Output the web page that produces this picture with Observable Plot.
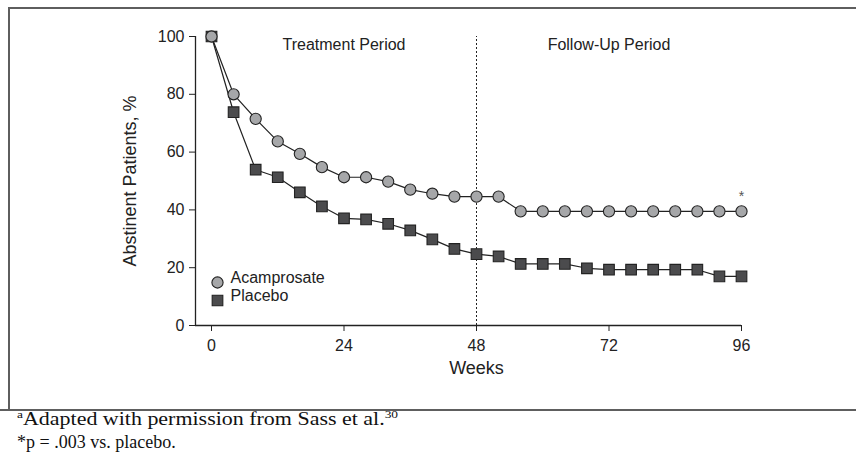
<!DOCTYPE html>
<html>
<head>
<meta charset="utf-8">
<script src="https://cdn.jsdelivr.net/npm/d3@7"></script>
<script src="https://cdn.jsdelivr.net/npm/@observablehq/plot@0.6"></script>
<style>
  html, body { margin: 0; padding: 0; background: #fff; }
  #wrap { position: relative; width: 856px; height: 459px; overflow: hidden; background: #fff; }
  #chart { position: absolute; left: 0; top: 0; }
  .frame { position: absolute; left: 8px; top: 7px; width: 900px; height: 402px;
           border-left: 2px solid #5e5e5e; border-top: 2px solid #5e5e5e; box-sizing: border-box; }
  .sep { position: absolute; left: 0; top: 409px; width: 856px; height: 2px; background: #5e5e5e; }
  .cap { position: absolute; left: 17px; top: 409px; font-family: "Liberation Serif", "Times New Roman", serif;
         font-size: 18px; line-height: 21px; color: #111; white-space: nowrap; }
  .cap .l1 { display: inline-block; transform: scaleX(1.22); transform-origin: left center; }
  .cap .sup { font-size: 11px; position: relative; top: -7px; }
</style>
</head>
<body>
<div id="wrap">
  <div id="chart"></div>
  <div class="frame"></div>
  <div class="sep"></div>
  <div class="cap"><span class="l1"><span class="sup">a</span>Adapted with permission from Sass et al.<span class="sup">30</span></span><br>*p = .003 vs. placebo.</div>
</div>
<script>
// ---- data ----
const weeks = [0, 4, 8, 12, 16, 20, 24, 28, 32, 36, 40, 44, 48, 52, 56, 60, 64, 68, 72, 76, 80, 84, 88, 92, 96];
const acamprosate = [100, 80, 71.5, 63.7, 59.4, 54.8, 51.3, 51.3, 49.8, 47, 45.6, 44.6, 44.6, 44.6,
                     39.5, 39.5, 39.5, 39.5, 39.5, 39.5, 39.5, 39.5, 39.5, 39.5, 39.5];
const placebo = [100, 73.8, 53.9, 51.3, 46.1, 41.2, 37.1, 36.7, 35.2, 32.9, 29.8, 26.5, 24.7, 23.9,
                 21.3, 21.3, 21.3, 19.8, 19.3, 19.3, 19.3, 19.3, 19.3, 17, 17];
const xTicks = [0, 24, 48, 72, 96];
const yTicks = [0, 20, 40, 60, 80, 100];
const seriesNames = ["Acamprosate", "Placebo"];
const periodLabels = ["Treatment Period", "Follow-Up Period"];
const periodCenters = [24, 72];
const periodBoundary = 48;
const sigMark = "*";
const xLabel = "Weeks";
const yLabel = "Abstinent Patients, %";

// ---- tables ----
const acam = weeks.map((w, i) => ({week: w, value: acamprosate[i]}));
const plac = weeks.map((w, i) => ({week: w, value: placebo[i]}));
const periods = periodLabels.map((l, i) => ({label: l, week: periodCenters[i]}));
const xDomain = [-2.9, 96];

const circleFill = "#a6a7a9", squareFill = "#4b4b4d", ink = "#222";

const chart = Plot.plot({
  width: 856,
  height: 409,
  marginLeft: 195,
  marginRight: 115,
  marginTop: 36,
  marginBottom: 84,
  style: {fontFamily: "'Liberation Sans', Arial, sans-serif", fontSize: "16px", color: ink, background: "transparent", overflow: "visible"},
  x: {domain: xDomain},
  y: {domain: [0, 100]},
  marks: [
    Plot.axisY({ticks: yTicks, tickSize: 6, tickPadding: 5, label: null, fontSize: 16, stroke: ink}),
    Plot.axisX({ticks: xTicks, tickSize: 6, tickPadding: 8, label: null, fontSize: 16, stroke: ink}),
    Plot.ruleY([0], {stroke: ink, strokeWidth: 1.3}),
    Plot.ruleX([xDomain[0]], {y1: 0, y2: 100, stroke: ink, strokeWidth: 1.3}),
    Plot.ruleX([periodBoundary], {y1: 0, y2: 100, stroke: ink, strokeWidth: 1, strokeDasharray: "2,2"}),
    Plot.text(periods, {x: "week", y: 100, text: "label", dy: 8, fontSize: 16, fill: ink}),
    Plot.line(plac, {x: "week", y: "value", stroke: ink, strokeWidth: 1.2}),
    Plot.line(acam, {x: "week", y: "value", stroke: ink, strokeWidth: 1.2}),
    Plot.dot(plac, {x: "week", y: "value", symbol: "square", r: 6, fill: squareFill, stroke: ink, strokeWidth: 1.1}),
    Plot.dot(acam, {x: "week", y: "value", symbol: "circle", r: 5.6, fill: circleFill, stroke: ink, strokeWidth: 1.1}),
    Plot.text(acam.slice(-1), {x: "week", y: "value", text: () => sigMark, dy: -15, fontSize: 14, fill: "#555"}),
    // legend
    Plot.dot([seriesNames[0]], {frameAnchor: "bottom-left", dx: 22, dy: -43, symbol: "circle", r: 5.6, fill: circleFill, stroke: ink, strokeWidth: 1.1}),
    Plot.dot([seriesNames[1]], {frameAnchor: "bottom-left", dx: 22, dy: -25, symbol: "square", r: 6, fill: squareFill, stroke: ink, strokeWidth: 1.1}),
    Plot.text([seriesNames[0]], {frameAnchor: "bottom-left", dx: 35, dy: -43, text: d => d, textAnchor: "start", fontSize: 16, fill: ink}),
    Plot.text([seriesNames[1]], {frameAnchor: "bottom-left", dx: 35, dy: -25, text: d => d, textAnchor: "start", fontSize: 16, fill: ink}),
    // axis titles
    Plot.text([xLabel], {x: (xTicks[0] + xTicks[xTicks.length - 1]) / 2, frameAnchor: "bottom", dy: 48, text: d => d, fontSize: 18, fill: ink}),
    Plot.text([yLabel], {frameAnchor: "left", dx: -65, rotate: -90, textAnchor: "middle", text: d => d, fontSize: 18, fill: ink})
  ]
});
document.getElementById("chart").appendChild(chart);
</script>
</body>
</html>
